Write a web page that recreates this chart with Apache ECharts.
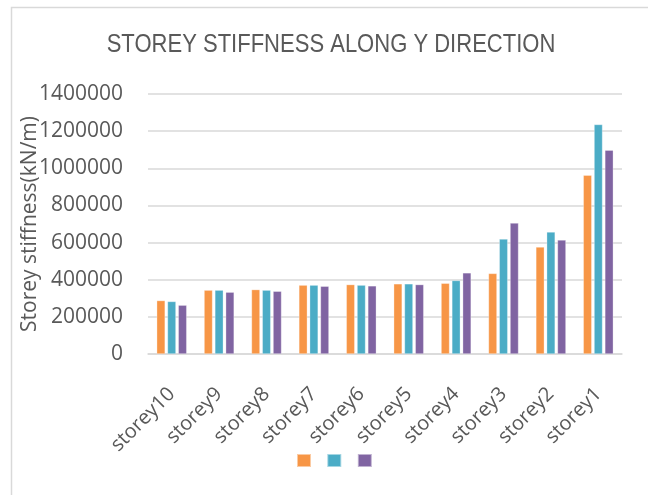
<!DOCTYPE html>
<html>
<head>
<meta charset="utf-8">
<script src="https://cdn.jsdelivr.net/npm/echarts@6/dist/echarts.min.js"></script>
<style>
html,body{margin:0;padding:0;background:#fff;}
#chart{width:648px;height:495px;}
</style>
</head>
<body>
<div id="chart"></div>
<script>
const categories = ['storey10','storey9','storey8','storey7','storey6','storey5','storey4','storey3','storey2','storey1'];
const seriesA = [288000, 344000, 347000, 371000, 374000, 378000, 381000, 434000, 576000, 963000];
const seriesB = [283000, 344000, 344000, 371000, 371000, 378000, 396000, 619000, 657000, 1236000];
const seriesC = [263000, 333000, 338000, 365000, 367000, 374000, 437000, 705000, 614000, 1098000];
const yTicks = [0, 200000, 400000, 600000, 800000, 1000000, 1200000, 1400000];
const colors = ['#F79646', '#4BACC6', '#8064A2'];
const titleText = 'STOREY STIFFNESS ALONG Y DIRECTION';

const chart = echarts.init(document.getElementById('chart'));
const txt = '#595959';
const font = 'Open Sans';
const mk = (data, i) => ({
  type: 'bar', name: ' '.repeat(i + 1), data: data,
  barWidth: 8.5, barGap: '27%',
  itemStyle: { color: colors[i], borderColor: 'rgba(255,255,255,0.5)', borderWidth: 0.6 }
});
chart.setOption({
  animation: false,
  backgroundColor: '#fff',
  graphic: [
    { type: 'rect', shape: { x: 11.5, y: 7.5, width: 700, height: 600 },
      style: { fill: 'none', stroke: '#d9d9d9', lineWidth: 1.5 }, silent: true },
    { type: 'text', x: 331, y: 45, scaleX: 0.847, silent: true,
      style: { text: titleText, fontFamily: 'Liberation Sans', fontSize: 26, fill: txt,
        textAlign: 'center', textVerticalAlign: 'middle' } }
  ],
  legend: {
    bottom: 22, left: 291, itemWidth: 14, itemHeight: 13, itemGap: 10,
    icon: 'rect', data: [' ', '  ', '   '], textStyle: { fontSize: 1 }
  },
  grid: { left: 148, right: 26, top: 94, bottom: 141 },
  xAxis: {
    type: 'category', data: categories,
    axisLine: { lineStyle: { color: '#d9d9d9', width: 1.5 } },
    axisTick: { show: false },
    axisLabel: { rotate: 45, margin: 37, interval: 0, color: txt, fontFamily: font, fontSize: 20 }
  },
  yAxis: {
    type: 'value', min: yTicks[0], max: yTicks[yTicks.length - 1], interval: 200000,
    name: 'Storey stiffness(kN/m)', nameLocation: 'middle', nameGap: 107, nameMoveOverlap: false,
    nameTextStyle: { fontFamily: font, fontSize: 21, color: txt },
    axisLine: { show: false }, axisTick: { show: false },
    axisLabel: { margin: 25, color: txt, fontFamily: font, fontSize: 21, formatter: v => String(v) },
    splitLine: { lineStyle: { color: '#d9d9d9', width: 1.5 } }
  },
  series: [mk(seriesA, 0), mk(seriesB, 1), mk(seriesC, 2)]
});
</script>
</body>
</html>
